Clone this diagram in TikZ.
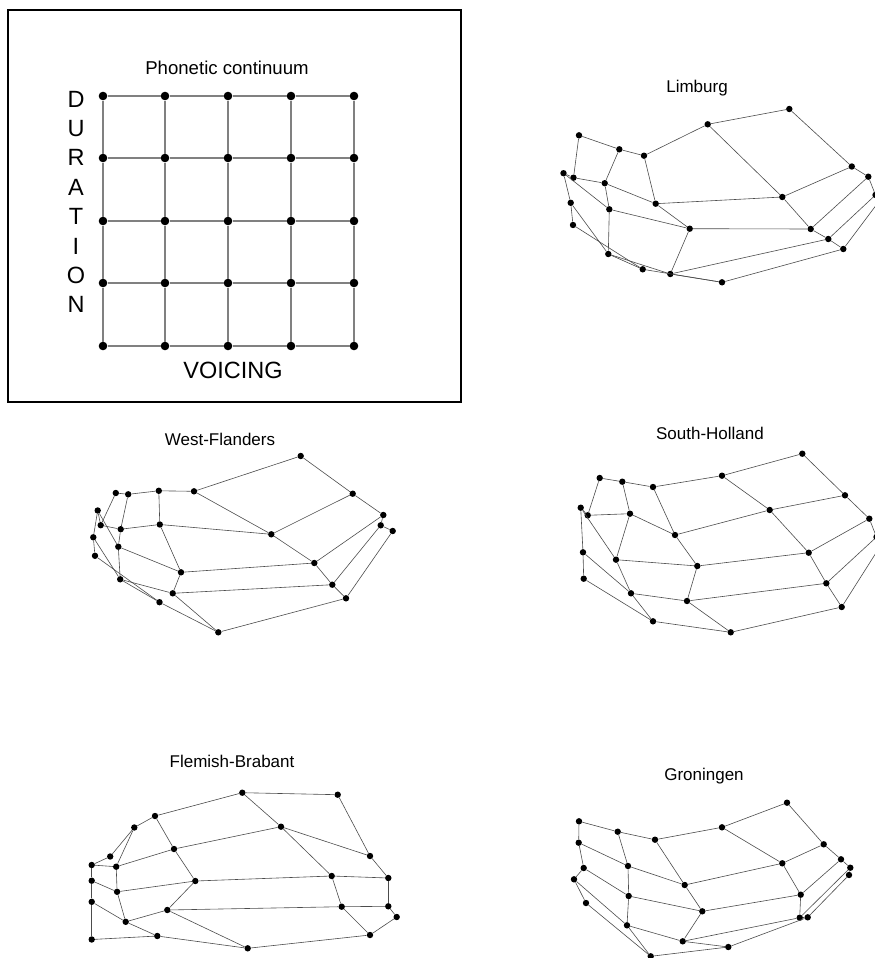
\documentclass[tikz,border=0pt]{standalone}
\usepackage{fontspec}
\setmainfont{Liberation Sans}

\begin{document}
\begin{tikzpicture}[x=1pt, y=-1pt,
    bigdot/.style={circle, fill=black, inner sep=0pt, minimum size=8.6pt},
    dot/.style={circle, fill=black, inner sep=0pt, minimum size=6.4pt},
    gridline/.style={draw=black!50, line width=1.1pt},
    warp/.style={draw=black!70, line width=0.6pt},
    region/.style={font=\fontsize{17}{20}\selectfont, anchor=base},
    axislabel/.style={font=\fontsize{23.5}{28}\selectfont}
  ]
    \useasboundingbox (0,0) rectangle (875,958);

    % phonetic continuum
    \node[draw, line width=1.2pt, minimum width=453pt, minimum height=392pt] (frame) at (234.5,206) {};
    \node[anchor=base, font=\fontsize{18.6}{22}\selectfont] (pho-title) at (227,74.5) {Phonetic continuum};
    \node[axislabel, anchor=base] (voicing) at (233,378.3) {VOICING};
    \foreach \l [count=\i] in {D,U,R,A,T,I,O,N}
      \node[axislabel] (dur-\i) at (76,{99+29.4*(\i-1)}) {\l};
    \foreach \r/\y in {1/96,2/158,3/221,4/283,5/346} {
      \foreach \c/\x in {1/103,2/165,3/228,4/291,5/354}
        \node[bigdot] (pho-\r-\c) at (\x,\y) {};
    }
    \foreach \r in {1,...,5} {
      \foreach \c [evaluate=\c as \n using int(\c+1)] in {1,...,4} {
        \draw[gridline] (pho-\r-\c) -- (pho-\r-\n);
        \draw[gridline] (pho-\c-\r) -- (pho-\n-\r);
      }
    }

    % Limburg
    \node[region] (lim-title) at (697,92.3) {Limburg};
    \foreach \r/\c/\x/\y in {
        1/1/579/135.3, 1/2/619.3/149.3, 1/3/644/155.7, 1/4/707.7/124.3, 1/5/789.3/109,
        2/1/573.5/177.7, 2/2/604.7/183.2, 2/3/655.7/203.7, 2/4/782.3/197, 2/5/851.8/166.5,
        3/1/563.5/173.2, 3/2/609.3/209.3, 3/3/689.7/228.7, 3/4/810.7/229, 3/5/868.3/176.7,
        4/1/570.7/202.8, 4/2/608.3/254, 4/3/670.3/274, 4/4/828.3/239, 4/5/875.5/195,
        5/1/573/225, 5/2/642.7/269.3, 5/3/722/282.3, 5/4/843.3/249, 5/5/880/200}
      \node[dot] (lim-\r-\c) at (\x,\y) {};

    % West-Flanders
    \node[region] (wfl-title) at (220,445) {West-Flanders};
    \foreach \r/\c/\x/\y in {
        1/1/115.8/493, 1/2/128.2/494.3, 1/3/158.8/490.8, 1/4/194/491.3, 1/5/300.7/456,
        2/1/100.7/525.2, 2/2/120.7/529.2, 2/3/159.8/524.5, 2/4/271.3/534.3, 2/5/352.7/493.7,
        3/1/97.7/510.5, 3/2/118.3/546.7, 3/3/181/572.3, 3/4/314.3/563, 3/5/383.3/515,
        4/1/93.3/537.3, 4/2/120.2/579.3, 4/3/172.7/593.3, 4/4/332.3/584.7, 4/5/380.7/525.3,
        5/1/95/555.8, 5/2/159.5/602.2, 5/3/218.3/632.3, 5/4/346/598.3, 5/5/392.7/531}
      \node[dot] (wfl-\r-\c) at (\x,\y) {};

    % South-Holland
    \node[region] (sho-title) at (710,439.3) {South-Holland};
    \foreach \r/\c/\x/\y in {
        1/1/599.7/478, 1/2/622.3/481.7, 1/3/653/487, 1/4/722/475.7, 1/5/802.3/453.7,
        2/1/587.7/515.3, 2/2/630/513.7, 2/3/675/535, 2/4/769.7/510, 2/5/845/495.3,
        3/1/580.7/507.7, 3/2/616/559.7, 3/3/697.3/566, 3/4/808.7/552.7, 3/5/869.3/518.7,
        4/1/583/552.3, 4/2/631/593.3, 4/3/687/601, 4/4/826.3/583.3, 4/5/876.5/537,
        5/1/583.7/578.7, 5/2/653/621.3, 5/3/730.7/632.3, 5/4/841.7/607, 5/5/881/545}
      \node[dot] (sho-\r-\c) at (\x,\y) {};

    % Flemish-Brabant
    \node[region] (fbr-title) at (232,767.7) {Flemish-Brabant};
    \foreach \r/\c/\x/\y in {
        1/1/110.2/856.5, 1/2/134.3/827.5, 1/3/155/816, 1/4/242.3/792.7, 1/5/337.7/794.7,
        2/1/91.7/865, 2/2/116.2/866.7, 2/3/174/849, 2/4/281/826.7, 2/5/370/856,
        3/1/91.7/880.7, 3/2/117.1/891.8, 3/3/195.3/881, 3/4/331.7/876, 3/5/388.3/878,
        4/1/91.7/901.8, 4/2/125.7/921.8, 4/3/167.3/910, 4/4/341.7/906.7, 4/5/388.3/906.3,
        5/1/91.7/939.5, 5/2/157.3/936, 5/3/247.7/948.3, 5/4/370/935, 5/5/396.7/917}
      \node[dot] (fbr-\r-\c) at (\x,\y) {};

    % Groningen
    \node[region] (gro-title) at (704,780.3) {Groningen};
    \foreach \r/\c/\x/\y in {
        1/1/579/821.3, 1/2/617.7/831.7, 1/3/655/839.7, 1/4/722/827.3, 1/5/787/802.7,
        2/1/578.7/842.7, 2/2/628/866, 2/3/684.7/885, 2/4/782.3/863.3, 2/5/823.7/844.3,
        3/1/583.7/868, 3/2/628.7/896, 3/3/702.3/911.3, 3/4/800.7/894.7, 3/5/841/859.3,
        4/1/574/879.3, 4/2/627/925.3, 4/3/682.7/941.3, 4/4/799.7/917.7, 4/5/850.3/867.7,
        5/1/586/903, 5/2/650.7/956.3, 5/3/728.3/947, 5/4/807.7/917.3, 5/5/849/875}
      \node[dot] (gro-\r-\c) at (\x,\y) {};

    % deformed grids
    \foreach \p in {lim,wfl,sho,fbr,gro} {
      \foreach \r in {1,...,5} {
        \foreach \c [evaluate=\c as \n using int(\c+1)] in {1,...,4} {
          \draw[warp] (\p-\r-\c) -- (\p-\r-\n);
          \draw[warp] (\p-\c-\r) -- (\p-\n-\r);
        }
      }
    }
  \end{tikzpicture}
\end{document}
